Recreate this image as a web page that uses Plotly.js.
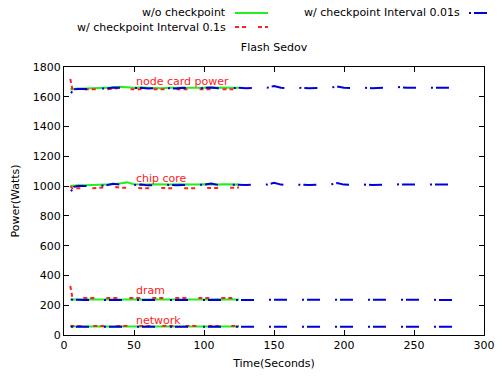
<!DOCTYPE html>
<html>
<head>
<meta charset="utf-8">
<script src="https://cdn.plot.ly/plotly-3.0.1.min.js"></script>
<style>html,body{margin:0;padding:0;background:#fff;}#chart{width:504px;height:378px;}</style>
</head>
<body>
<div id="chart"></div>
<script>
// Time axes (seconds)
var timeShort = [4.5, 6, 10, 15, 20, 25, 30, 35, 40, 45, 50, 55, 60, 65, 70, 75, 80, 85, 90, 95, 100, 105, 110, 115, 120, 125];
var timeLong = [5, 7, 10, 15, 20, 25, 30, 35, 40, 45, 50, 55, 60, 65, 70, 75, 80, 85, 90, 95, 100, 105, 110, 115, 120, 125, 130, 135, 140, 145, 150, 155, 160, 165, 170, 175, 180, 185, 190, 195, 200, 205, 210, 215, 220, 225, 230, 235, 240, 245, 250, 255, 260, 265, 270, 275, 278];

// w/o checkpoint (timeShort)
var nodeNoCkpt = [1650, 1652, 1655, 1655, 1656, 1658, 1660, 1662, 1668, 1662, 1660, 1662, 1660, 1660, 1658, 1660, 1662, 1660, 1660, 1658, 1660, 1662, 1660, 1658, 1660, 1660];
var chipNoCkpt = [1000, 1002, 1005, 1005, 1006, 1008, 1010, 1012, 1018, 1025, 1012, 1010, 1010, 1012, 1010, 1010, 1012, 1010, 1010, 1010, 1012, 1010, 1010, 1012, 1010, 1010];
var dramNoCkpt = [238, 238, 238, 237, 238, 238, 238, 238, 239, 238, 238, 238, 237, 238, 238, 238, 238, 238, 237, 238, 238, 238, 238, 238, 238, 238];
var netNoCkpt = [57, 57, 57, 57, 57, 57, 57, 57, 58, 57, 57, 57, 57, 57, 57, 57, 57, 57, 57, 57, 57, 57, 57, 57, 57, 57];

// w/ checkpoint Interval 0.1s (timeShort)
var node01 = [1720, 1650, 1648, 1650, 1650, 1652, 1650, 1655, 1660, 1650, 1650, 1648, 1650, 1652, 1650, 1648, 1650, 1650, 1652, 1650, 1648, 1650, 1650, 1648, 1650, 1650];
var chip01 = [1000, 985, 985, 988, 985, 988, 990, 995, 990, 988, 985, 988, 985, 985, 988, 985, 988, 985, 985, 988, 985, 988, 985, 985, 988, 990];
var dram01 = [330, 250, 248, 248, 249, 248, 248, 250, 248, 248, 248, 249, 248, 248, 248, 250, 248, 248, 248, 249, 248, 248, 250, 248, 248, 248];
var net01 = [60, 60, 60, 60, 61, 60, 60, 60, 60, 61, 60, 60, 60, 60, 60, 61, 60, 60, 60, 60, 61, 60, 60, 60, 60, 60];

// w/ checkpoint Interval 0.01s (timeLong)
var node001 = [1625, 1650, 1652, 1650, 1652, 1655, 1655, 1662, 1660, 1655, 1658, 1660, 1655, 1658, 1660, 1658, 1655, 1660, 1658, 1655, 1660, 1662, 1658, 1660, 1658, 1660, 1658, 1660, 1658, 1660, 1672, 1660, 1658, 1660, 1660, 1658, 1660, 1658, 1660, 1670, 1660, 1658, 1660, 1660, 1658, 1660, 1660, 1662, 1665, 1660, 1660, 1658, 1660, 1660, 1658, 1660, 1660];
var chip001 = [965, 995, 1000, 998, 1000, 1002, 1005, 1015, 1010, 1005, 1008, 1010, 1005, 1008, 1010, 1008, 1005, 1008, 1010, 1008, 1010, 1018, 1008, 1010, 1008, 1010, 1008, 1010, 1008, 1010, 1022, 1010, 1008, 1010, 1010, 1008, 1010, 1008, 1010, 1020, 1010, 1008, 1010, 1010, 1008, 1010, 1008, 1010, 1012, 1010, 1008, 1010, 1010, 1008, 1010, 1010, 1010];
var dram001 = [238, 236, 236, 235, 236, 237, 236, 236, 237, 236, 235, 236, 236, 237, 236, 236, 235, 236, 236, 236, 237, 236, 236, 235, 236, 236, 236, 236, 237, 236, 236, 235, 236, 236, 236, 237, 236, 236, 235, 236, 236, 236, 237, 236, 236, 236, 235, 236, 236, 236, 237, 236, 236, 236, 235, 236, 236];
var net001 = [56, 56, 56, 55, 56, 56, 56, 56, 57, 56, 56, 55, 56, 56, 56, 56, 57, 56, 56, 56, 55, 56, 56, 56, 56, 57, 56, 56, 56, 55, 56, 56, 56, 56, 57, 56, 56, 56, 55, 56, 56, 56, 56, 57, 56, 56, 56, 55, 56, 56, 56, 56, 57, 56, 56, 56, 56];

// Series labels
var seriesNames = ["w/o checkpoint", "w/ checkpoint Interval 0.1s", "w/ checkpoint Interval 0.01s"];
var componentLabels = ["node card power", "chip core", "dram", "network"];
var componentLabelY = [1700, 1050, 300, 100];
var componentLabelX = 50;

var FONT = "DejaVu Sans, Verdana, sans-serif";
var GREEN = "#22ee22", RED = "#ff2020", BLUE = "#0000dd";
var RED_DASH = "4px,3px,4px,12px";
var BLUE_DASH = "2px,3px,13px,15px";

function tr(x, y, color, dash) {
  return {x: x, y: y, type: "scatter", mode: "lines", showlegend: false, hoverinfo: "skip",
          line: {color: color, width: 2, dash: dash}};
}

var traces = [];
[nodeNoCkpt, chipNoCkpt, dramNoCkpt, netNoCkpt].forEach(function (s) { traces.push(tr(timeShort, s, GREEN, "solid")); });
[node01, chip01, dram01, net01].forEach(function (s) { traces.push(tr(timeShort, s, RED, RED_DASH)); });
[node001, chip001, dram001, net001].forEach(function (s) { traces.push(tr(timeLong, s, BLUE, BLUE_DASH)); });

// Plot area: left 64, right 484, top 67, bottom 335
function px2paperX(px) { return (px - 64) / 420; }
function px2paperY(py) { return (335 - py) / 268; }

var annotations = [];
componentLabels.forEach(function (t, i) {
  annotations.push({x: componentLabelX, y: componentLabelY[i], xref: "x", yref: "y", text: t,
    showarrow: false, xanchor: "left", yanchor: "middle", font: {family: FONT, size: 11, color: RED}});
});
// legend
var legendItems = [
  {name: seriesNames[0], textRight: 228, y: 13, x0: 235, x1: 268, color: GREEN, dash: "solid"},
  {name: seriesNames[1], textRight: 228, y: 27, x0: 235, x1: 268, color: RED, dash: RED_DASH},
  {name: seriesNames[2], textRight: 462, y: 13, x0: 469, x1: 502, color: BLUE, dash: BLUE_DASH}
];
var shapes = [];
legendItems.forEach(function (it) {
  annotations.push({x: px2paperX(it.textRight), y: px2paperY(it.y), xref: "paper", yref: "paper", text: it.name,
    showarrow: false, xanchor: "right", yanchor: "middle", font: {family: FONT, size: 11, color: "#000"}});
  shapes.push({type: "line", xref: "paper", yref: "paper", x0: px2paperX(it.x0), x1: px2paperX(it.x1),
    y0: px2paperY(it.y), y1: px2paperY(it.y), line: {color: it.color, width: 2, dash: it.dash}});
});

var axisCommon = {
  showline: true, linecolor: "#000", linewidth: 1, mirror: "ticks",
  ticks: "inside", ticklen: 5, tickcolor: "#000", tickwidth: 1,
  showgrid: false, zeroline: false,
  tickfont: {family: FONT, size: 11, color: "#000"}
};

var layout = {
  width: 504, height: 378,
  margin: {l: 64, r: 20, t: 67, b: 43, pad: 0},
  paper_bgcolor: "#fff", plot_bgcolor: "#fff",
  title: {text: "Flash Sedov", font: {family: FONT, size: 11, color: "#000"},
          x: px2paperX(274), xref: "paper", y: 1 - 47 / 378, yref: "container", yanchor: "middle"},
  xaxis: Object.assign({}, axisCommon, {range: [0, 300], tick0: 0, dtick: 50,
          title: {text: "Time(Seconds)", font: {family: FONT, size: 11, color: "#000"}, standoff: 8}}),
  yaxis: Object.assign({}, axisCommon, {range: [0, 1800], tick0: 0, dtick: 200,
          title: {text: "Power(Watts)", font: {family: FONT, size: 11, color: "#000"}, standoff: 10}}),
  annotations: annotations,
  shapes: shapes,
  showlegend: false
};

Plotly.newPlot("chart", traces, layout, {staticPlot: true, displayModeBar: false});
</script>
</body>
</html>
